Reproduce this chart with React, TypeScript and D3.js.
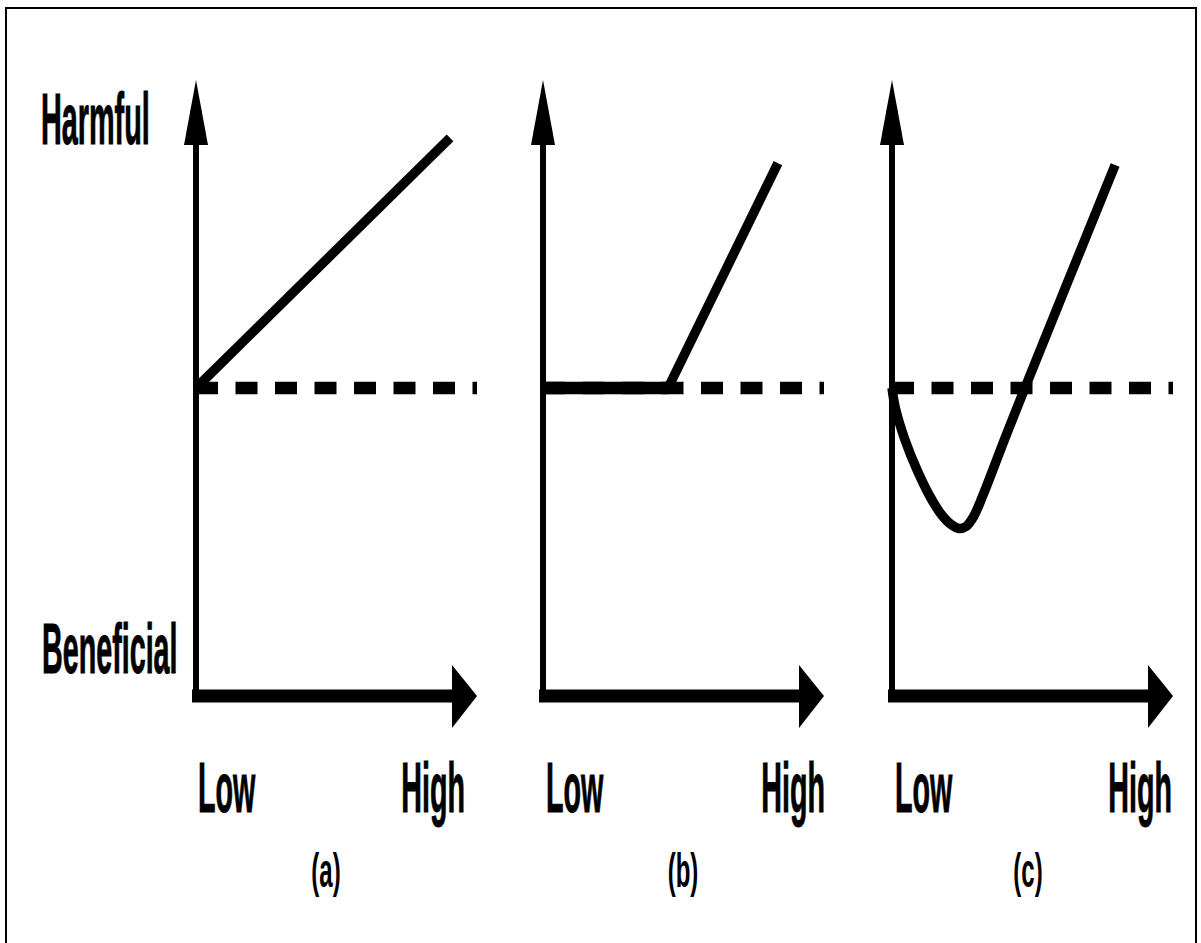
import React from "react";
import * as d3 from "d3";

// ---- data ----
const xTickLabels = ["Low", "High"];
const yTickLabels = ["Harmful", "Beneficial"];
const panelNames = ["(a)", "(b)", "(c)"];

const seriesA = [
  { x: 0, y: 0 },
  { x: 0.904, y: 0.812 },
];
const seriesB = [
  { x: 0, y: 0 },
  { x: 0.445, y: 0 },
  { x: 0.836, y: 0.73 },
];
const seriesC = [
  { x: 0, y: 0 },
  { x: 0.012, y: -0.065 },
  { x: 0.046, y: -0.168 },
  { x: 0.089, y: -0.266 },
  { x: 0.135, y: -0.352 },
  { x: 0.175, y: -0.41 },
  { x: 0.21, y: -0.443 },
  { x: 0.238, y: -0.456 },
  { x: 0.264, y: -0.449 },
  { x: 0.29, y: -0.418 },
  { x: 0.325, y: -0.345 },
  { x: 0.4, y: -0.168 },
  { x: 0.473, y: 0 },
  { x: 0.794, y: 0.724 },
];
const allSeries = [seriesA, seriesB, seriesC];
const baselineValue = 0;

// ---- layout ----
const W = 1201;
const H = 943;
const panelX0 = [196, 543, 892];
const panelLen = 281;
const yTop = 80;
const yBottom = 696;
const lowLeft = [198, 546, 895];
const highRight = [465, 825, 1172];
const nameCenter = [326, 683, 1028];
const FONT = "'Liberation Sans', Arial, Helvetica, sans-serif";

const yScale = d3.scaleLinear().domain([-1, 1]).range([yBottom, yTop]);

function Panel({ i }: { i: number }) {
  const x0 = panelX0[i];
  const xScale = d3.scaleLinear().domain([0, 1]).range([x0, x0 + panelLen]);
  const line = d3
    .line<{ x: number; y: number }>()
    .x((d) => xScale(d.x))
    .y((d) => yScale(d.y))
    .curve(i === 2 ? d3.curveCatmullRom.alpha(0.5) : d3.curveLinear);
  const yb = yScale(baselineValue);
  const xTip = xScale(1);
  const yTip = yScale(1);
  const xAxisY = yScale(-1);
  return (
    <g>
      {/* y axis */}
      <line x1={x0} x2={x0} y1={yTip + 60} y2={xAxisY} stroke="#000" strokeWidth={6} />
      <polygon
        points={`${x0 - 12},${yTip + 65} ${x0},${yTip} ${x0 + 12},${yTip + 65}`}
        fill="#000"
      />
      {/* x axis */}
      <line x1={x0 - 4} x2={xTip - 22} y1={xAxisY} y2={xAxisY} stroke="#000" strokeWidth={13} />
      <polygon
        points={`${xTip - 25},${xAxisY - 31} ${xTip},${xAxisY} ${xTip - 25},${xAxisY + 32}`}
        fill="#000"
      />
      {/* dashed reference */}
      <line
        x1={x0}
        x2={xTip}
        y1={yb}
        y2={yb}
        stroke="#000"
        strokeWidth={12.5}
        strokeDasharray="22 17.5"
      />
      {/* response */}
      <path
        d={line(allSeries[i]) || ""}
        fill="none"
        stroke="#000"
        strokeWidth={9.5}
        strokeLinejoin="round"
        strokeLinecap="butt"
      />
      {i === 1 && (
        <line
          x1={x0}
          x2={xScale(seriesB[1].x)}
          y1={yb}
          y2={yb}
          stroke="#000"
          strokeWidth={12.5}
        />
      )}
      {/* tick labels */}
      <text
        transform={`translate(${lowLeft[i]},812) scale(0.41,1)`}
        fontFamily={FONT}
        fontWeight="bold"
        fontSize={70}
        fill="#000"
        stroke="#000"
        strokeWidth={1}
      >
        {xTickLabels[0]}
      </text>
      <text
        transform={`translate(${highRight[i]},812) scale(0.41,1)`}
        fontFamily={FONT}
        fontWeight="bold"
        fontSize={70}
        textAnchor="end"
        fill="#000"
        stroke="#000"
        strokeWidth={1}
      >
        {xTickLabels[1]}
      </text>
      <text
        transform={`translate(${nameCenter[i]},887) scale(0.5,1)`}
        fontFamily={FONT}
        fontWeight="bold"
        fontSize={48}
        textAnchor="middle"
        fill="#000"
      >
        {panelNames[i]}
      </text>
    </g>
  );
}

export default function App() {
  return (
    <svg
      width={W}
      height={H}
      style={{ position: "absolute", left: 0, top: 0, background: "#fff" }}
    >
      <rect x={0} y={0} width={W} height={H} fill="#fff" />
      <rect x={6} y={8} width={1190} height={960} fill="none" stroke="#000" strokeWidth={2} />
      <text
        transform={`translate(41,144) scale(0.4,1)`}
        fontFamily={FONT}
        fontWeight="bold"
        fontSize={72}
        fill="#000"
        stroke="#000"
        strokeWidth={1}
      >
        {yTickLabels[0]}
      </text>
      <text
        transform={`translate(42,673) scale(0.41,1)`}
        fontFamily={FONT}
        fontWeight="bold"
        fontSize={70}
        fill="#000"
        stroke="#000"
        strokeWidth={1}
      >
        {yTickLabels[1]}
      </text>
      {[0, 1, 2].map((i) => (
        <Panel key={i} i={i} />
      ))}
    </svg>
  );
}
